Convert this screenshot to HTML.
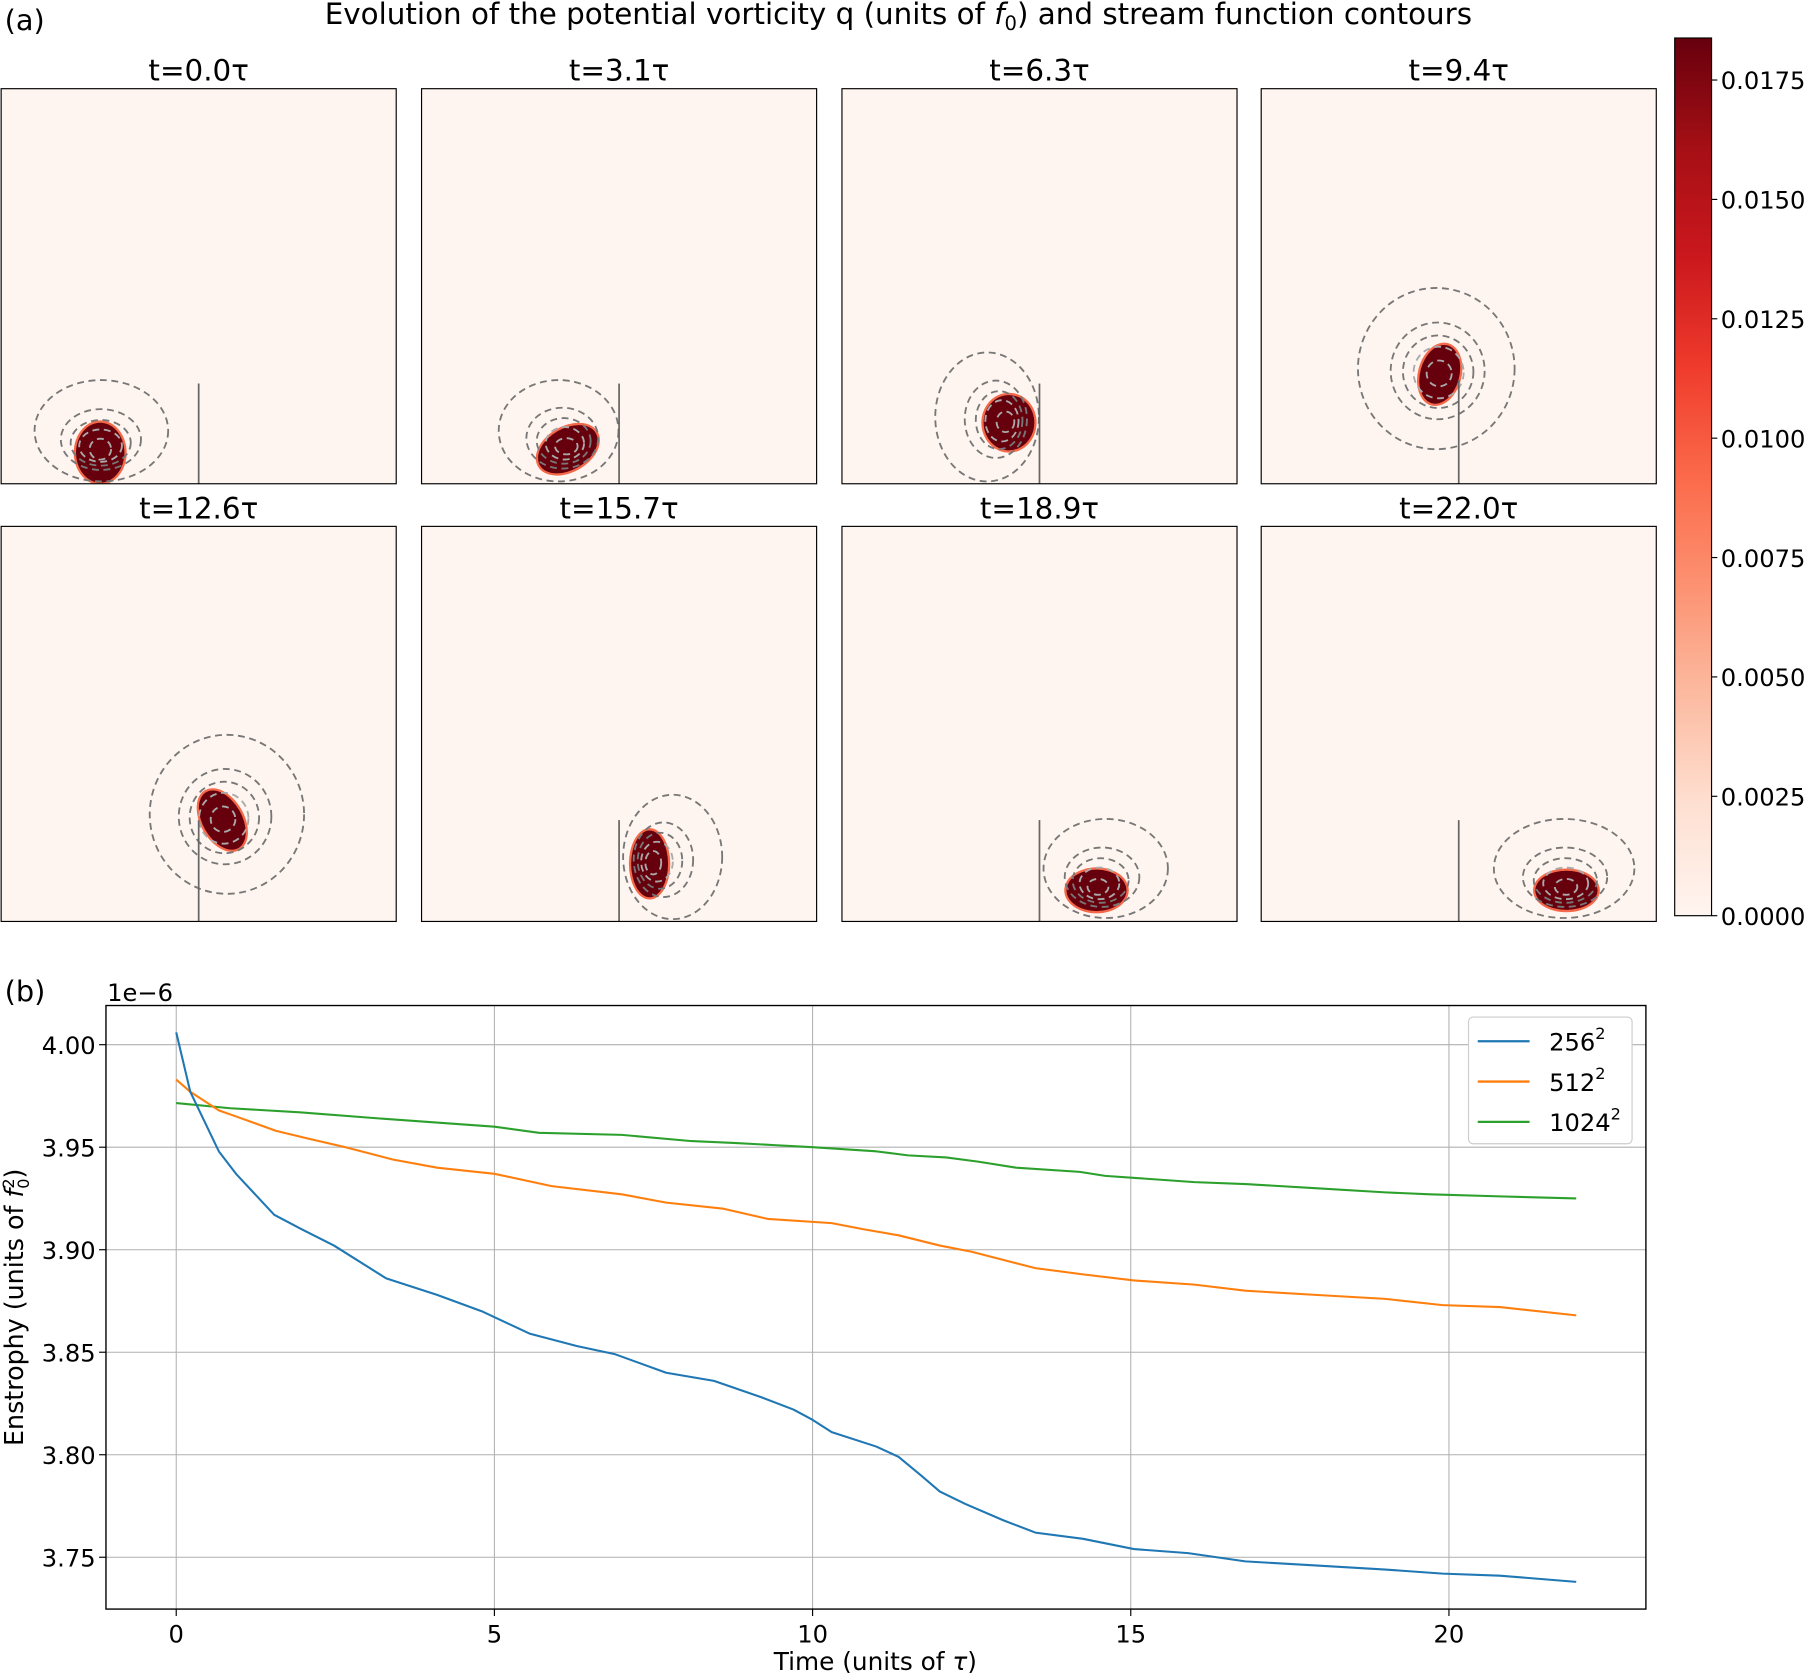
<!DOCTYPE html>
<html><head><meta charset="utf-8"><style>
html,body{margin:0;padding:0;background:#fff;}
svg{display:block;font-family:"DejaVu Sans","Liberation Sans",sans-serif;}
</style></head><body>
<svg id="fig" width="1806" height="1673" viewBox="0 0 1568 1452.5" preserveAspectRatio="none" xmlns="http://www.w3.org/2000/svg">
<defs>
<linearGradient id="reds" x1="0" y1="1" x2="0" y2="0">
<stop offset="0" stop-color="#fff5f0"/><stop offset="0.125" stop-color="#fee0d2"/><stop offset="0.25" stop-color="#fcbba1"/><stop offset="0.375" stop-color="#fc9272"/><stop offset="0.5" stop-color="#fb6a4a"/><stop offset="0.625" stop-color="#ef3b2c"/><stop offset="0.75" stop-color="#cb181d"/><stop offset="0.875" stop-color="#a50f15"/><stop offset="1" stop-color="#67000d"/>
</linearGradient>
</defs>
<text x="4" y="26" font-size="25">(a)</text>
<text x="780" y="21" font-size="25.5" text-anchor="middle">Evolution of the potential vorticity q (units of <tspan font-style="italic">f</tspan><tspan font-size="17" dy="5">0</tspan><tspan dy="-5">) and stream function contours</tspan></text>
<g id="panels"></g>
<g>
<rect x="1454" y="33" width="32" height="762" fill="url(#reds)" stroke="#000" stroke-width="1"/>
<g id="cbticks"></g>
</g>
<text x="4" y="869" font-size="25">(b)</text>
<text x="93" y="869" font-size="21">1e−6</text>
<g id="chart"></g>
<text x="760" y="1450" font-size="21.5" text-anchor="middle">Time (units of <tspan font-style="italic">τ</tspan>)</text>
<text transform="translate(20,1135) rotate(-90)" font-size="22" text-anchor="middle">Enstrophy (units of <tspan font-style="italic">f</tspan><tspan font-size="14" dy="-8">2</tspan><tspan font-size="14" dx="-9" dy="13">0</tspan><tspan dy="-5">)</tspan></text>
<g>
<rect x="1275" y="883" width="142" height="110" rx="4" fill="#fff" stroke="#ccc"/>
<line x1="1283" y1="904" x2="1328" y2="904" stroke="#1f77b4" stroke-width="2"/>
<text x="1345" y="912" font-size="21">256<tspan font-size="14" dy="-10">2</tspan></text>
<line x1="1283" y1="939" x2="1328" y2="939" stroke="#ff7f0e" stroke-width="2"/>
<text x="1345" y="947" font-size="21">512<tspan font-size="14" dy="-10">2</tspan></text>
<line x1="1283" y1="974" x2="1328" y2="974" stroke="#2ca02c" stroke-width="2"/>
<text x="1345" y="982" font-size="21">1024<tspan font-size="14" dy="-10">2</tspan></text>
</g>
</svg>
<script>
const NS="http://www.w3.org/2000/svg";
const cbTicks=[0,0.0025,0.005,0.0075,0.01,0.0125,0.015,0.0175];
const cbMax=0.01838;
const xTicks=[0,5,10,15,20];
const yTicks=[3.75,3.80,3.85,3.90,3.95,4.00];
const times=[0,0.22,0.67,0.94,1.54,1.97,2.48,3.3,4.1,4.8,5.56,6.3,6.9,7.7,8.45,9.2,9.7,10,10.3,11,11.35,11.7,12,12.4,13,13.5,14.25,15.05,15.9,16.8,17.9,19,19.9,20.8,22];
const s256=[4.006,3.977,3.948,3.937,3.917,3.910,3.902,3.886,3.878,3.870,3.859,3.853,3.849,3.840,3.836,3.828,3.822,3.817,3.811,3.804,3.799,3.790,3.782,3.776,3.768,3.762,3.759,3.754,3.752,3.748,3.746,3.744,3.742,3.741,3.738];
const times512=[0,0.22,0.67,0.94,1.57,2.1,2.66,3.4,4.1,5,5.9,7,7.7,8.6,9.3,10.3,10.8,11.35,12,12.5,13.5,14.25,15.05,16,16.8,17.9,19,19.9,20.8,22];
const s512=[3.983,3.977,3.968,3.965,3.958,3.954,3.950,3.944,3.940,3.937,3.931,3.927,3.923,3.920,3.915,3.913,3.910,3.907,3.902,3.899,3.891,3.888,3.885,3.883,3.880,3.878,3.876,3.873,3.872,3.868];
const times1024=[0,0.85,1.94,3.2,5,5.7,7,8.1,8.8,9.4,10,11,11.5,12.1,12.6,13.2,14.2,14.6,16,16.8,17.9,19,19.7,20.8,22];
const s1024=[3.9715,3.969,3.967,3.964,3.960,3.957,3.956,3.953,3.952,3.951,3.950,3.948,3.946,3.945,3.943,3.940,3.938,3.936,3.933,3.932,3.930,3.928,3.927,3.926,3.925];
const snapTimes=["0.0","3.1","6.3","9.4","12.6","15.7","18.9","22.0"];
const vortex=[[86,316,21,26,0],[127,313,28,18,-30],[145,290,22,24,0],[155,248,17,26,15],[192,255,17,28,-30],[198,293,16,29,0],[221,316,26,18,0],[265,316,27,17,0]];
const outer=[[87,297,58,44],[119,297,52,44],[126,285,45,56],[152,243,68,70],[196,250,67,69],[218,287,43,54],[229,297,54,43],[263,297,61,43]];
const wallTop=[256,256,256,253,255,255,255,255];

function mk(tag,attrs,parent){const e=document.createElementNS(NS,tag);for(const k in attrs)e.setAttribute(k,attrs[k]);parent.appendChild(e);return e;}

const P=document.getElementById('panels');
const lefts=[1,366,731,1095], tops=[77,457], S=343;
for(let i=0;i<8;i++){
  const L=lefts[i%4], T=tops[Math.floor(i/4)];
  const g=mk('g',{},P);
  
  
  const cp='cp'+i;
  const c=mk('clipPath',{id:cp},g);mk('rect',{x:L,y:T,width:S,height:S},c);
  mk('rect',{x:L,y:T,width:S,height:S,fill:'#fff5f0'},g);
  const inner=mk('g',{'clip-path':'url(#'+cp+')'},g);
  const v=vortex[i],o=outer[i];
  const vcx=L+v[0],vcy=T+v[1];
  mk('ellipse',{cx:vcx,cy:vcy,rx:v[2]+2,ry:v[3]+2,transform:`rotate(${v[4]} ${vcx} ${vcy})`,fill:'#f4694a'},inner);
  const e2=mk('ellipse',{cx:vcx,cy:vcy,rx:v[2],ry:v[3],transform:`rotate(${v[4]} ${vcx} ${vcy})`,fill:'#67000d'},inner);
  
  
  const fr=[1,0.6,0.45,0.32,0.16];
  fr.forEach((f,k)=>{
    const cx=L+v[0]+(o[0]-v[0])*f, cy=T+v[1]+(o[1]-v[1])*f;
    const rx=Math.max(o[2]*f,v[2]*0.35), ry=Math.max(o[3]*f,v[3]*0.35);
    const ce=mk('ellipse',{cx:cx,cy:cy,rx:rx,ry:ry,fill:'none',stroke:k>=3?'#aaa':'#777','stroke-width':1.6,'stroke-dasharray':'6,4'},inner);
    
    
  });
  const w=mk('line',{x1:L+171.5,y1:T+wallTop[i],x2:L+171.5,y2:T+S,stroke:'#666','stroke-width':1.5},g);
  
  
  mk('rect',{x:L,y:T,width:S,height:S,fill:'none',stroke:'#000','stroke-width':1},g);
  const t=mk('text',{x:L+S/2,y:T-7,'font-size':25.5,'text-anchor':'middle'},g);
  t.textContent='t='+snapTimes[i]+'τ';
  
  
}
const CB=document.getElementById('cbticks');
const cbY=v=>795-(v/cbMax)*762;
cbTicks.forEach(v=>{
  const y=cbY(v);
  mk('line',{x1:1486,y1:y,x2:1491,y2:y,stroke:'#000'},CB);
  const t=mk('text',{x:1494,y:y+8,'font-size':21},CB);
  t.textContent=v.toFixed(4);
  
  
});
const C=document.getElementById('chart');
const X0=92,X1=1429,Y0=873,Y1=1397;
const xs=t=>153+t*55.25;
const ys=v=>907+(4.0-v)*1780;
xTicks.forEach(t=>{
  const x=xs(t);
  const gl=mk('line',{x1:x,y1:Y0,x2:x,y2:Y1,stroke:'#b0b0b0','stroke-width':0.9},C);
  
  
  mk('line',{x1:x,y1:Y1,x2:x,y2:Y1+6,stroke:'#000'},C);
  const tx=mk('text',{x:x,y:Y1+29,'font-size':21,'text-anchor':'middle'},C);
  tx.textContent=t;
  
  
});
yTicks.forEach(v=>{
  const y=ys(v);
  const gl=mk('line',{x1:X0,y1:y,x2:X1,y2:y,stroke:'#b0b0b0','stroke-width':0.9},C);
  
  
  mk('line',{x1:X0-6,y1:y,x2:X0,y2:y,stroke:'#000'},C);
  const tx=mk('text',{x:X0-9,y:y+8,'font-size':21,'text-anchor':'end'},C);
  tx.textContent=v.toFixed(2);
  
  
});
function line(ts,vals,color,name){
  const d=ts.map((t,i)=>(i?'L':'M')+xs(t).toFixed(1)+','+ys(vals[i]).toFixed(1)).join('');
  const p=mk('path',{d:d,fill:'none',stroke:color,'stroke-width':1.8,'stroke-linejoin':'round'},C);
  
  
}
line(times1024,s1024,'#2ca02c','series-1024');
line(times512,s512,'#ff7f0e','series-512');
line(times,s256,'#1f77b4','series-256');
mk('rect',{x:X0,y:Y0,width:X1-X0,height:Y1-Y0,fill:'none',stroke:'#000','stroke-width':1.2},C);
</script>
</body></html>
